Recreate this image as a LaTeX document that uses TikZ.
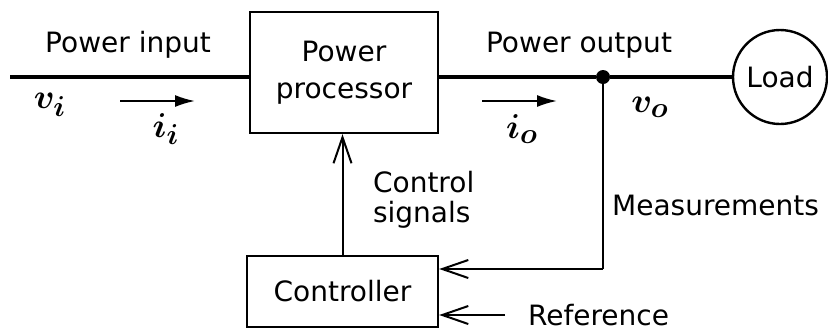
\documentclass[tikz,border=0pt]{standalone}
\usepackage{fontspec}
\setmainfont{DejaVu Sans}
\usetikzlibrary{arrows.meta}

\begin{document}
\begin{tikzpicture}[x=0.5pt, y=0.5pt, font=\fontsize{14}{18.5}\selectfont,
	block/.style = {draw, line width=1.2pt, minimum width=94pt, align=center},
	power/.style = {line width=2.2pt},
	signal/.style = {line width=1pt, -{Straight Barb[length=13pt, width=9pt, line width=1pt]}},
	flow/.style = {line width=1pt, -{Latex[length=10pt, width=6pt]}},
	var/.style = {font=\fontsize{19}{20}\selectfont\boldmath}]
	\useasboundingbox (0,0) rectangle (828,329);
	\node[block, minimum height=60.5pt] (proc) at (344,256.5) {Power\\processor};
	\node[block, minimum width=95.5pt, minimum height=35.5pt] (ctrl) at (342.5,37.5) {Controller};
	\node[draw, circle, line width=1.2pt, minimum size=47pt, inner sep=0pt] (load) at (780,252) {Load};
	\node[circle, fill, inner sep=0pt, minimum size=7pt] (dot) at (603,252) {};
	\coordinate (in) at (10,252);
	\coordinate (meas) at (603,60);
	\coordinate (ref) at (505,14);
	\coordinate (ii1) at (120,228);
	\coordinate (ii2) at (195,228);
	\coordinate (io1) at (482,228);
	\coordinate (io2) at (557,228);
	\node[anchor=base] (pin) at (128,277) {Power input};
	\node[anchor=base] (pout) at (579,277) {Power output};
	\node[var] (vi) at (50,224) {$v_i$};
	\node[var] (ii) at (166,200) {$i_i$};
	\node[var] (io) at (522,200) {$i_o$};
	\node[var] (vo) at (650,222) {$v_o$};
	\node[anchor=west, align=left, font=\fontsize{14}{15}\selectfont] (sig) at (366,129) {Control\\signals};
	\node[anchor=base east] (mlab) at (826,114) {Measurements};
	\node[anchor=base west] (rlab) at (521,4) {Reference};
	\draw[power] (in) -- (in -| proc.west);
	\draw[power] (proc.east |- dot) -- (dot) -- (load);
	\draw[signal] (ctrl.north) -- (ctrl.north |- proc.south);
	\draw[line width=1pt] (dot) -- (meas);
	\draw[signal] (meas) -- (meas -| ctrl.east);
	\draw[signal] (ref) -- (ref -| ctrl.east);
	\draw[flow] (ii1) -- (ii2);
	\draw[flow] (io1) -- (io2);
\end{tikzpicture}
\end{document}
